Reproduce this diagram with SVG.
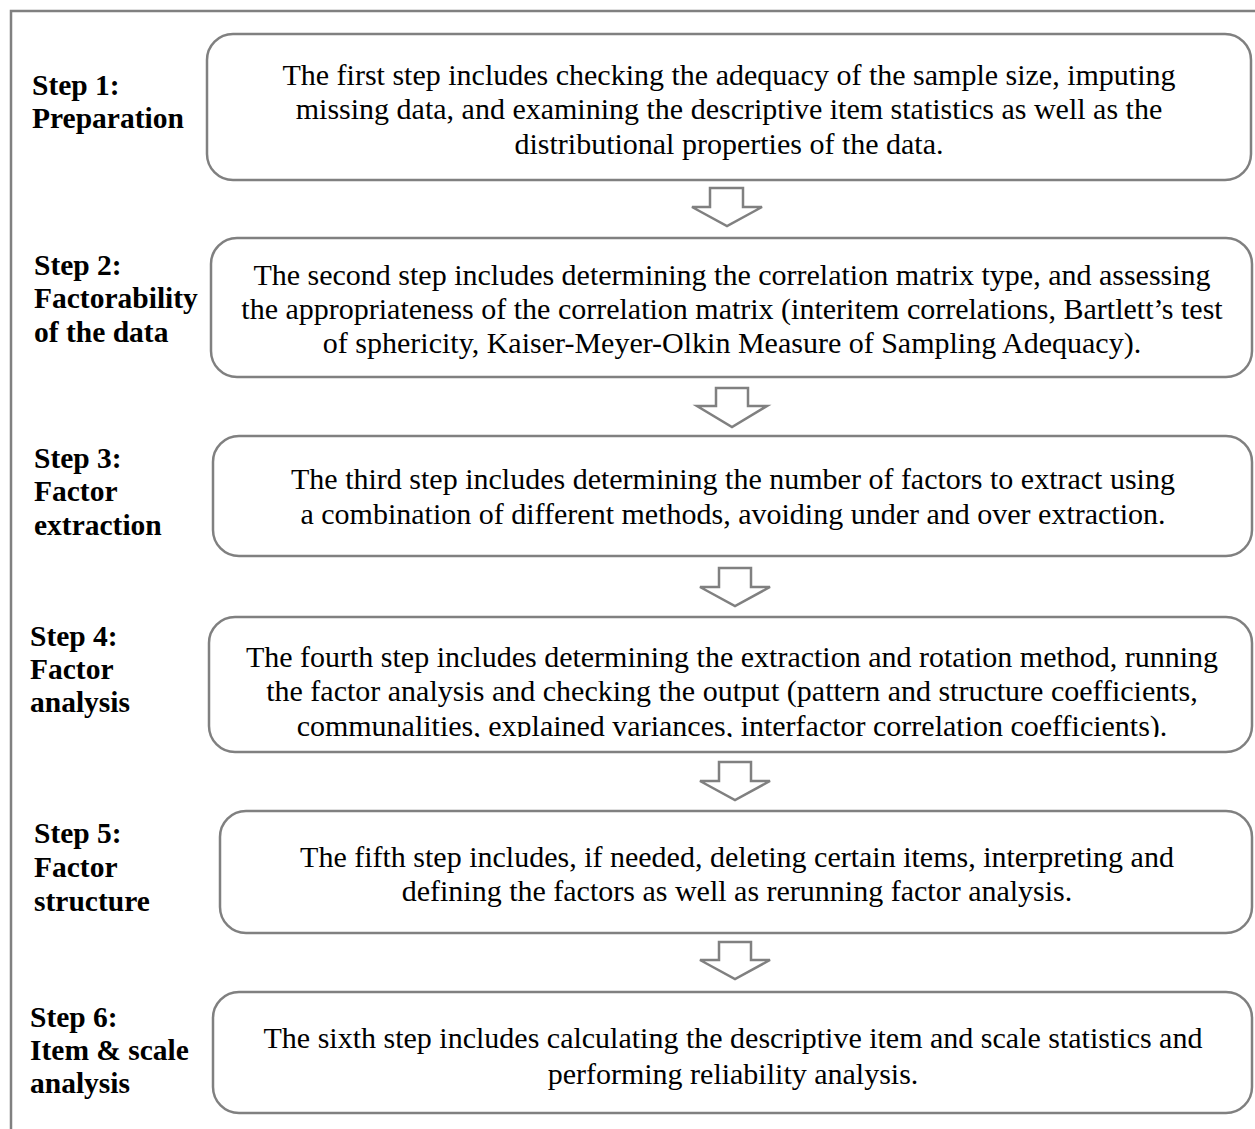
<svg xmlns="http://www.w3.org/2000/svg" width="1255" height="1129" viewBox="0 0 1255 1129">
<style>
.frame{fill:none;stroke:#808080;stroke-width:2.5}
.box{fill:#fff;stroke:#808080;stroke-width:2.5}
.arr{fill:#fff;stroke:#808080;stroke-width:2.5;stroke-linejoin:miter}
.lbl{font-family:"Liberation Serif","Times New Roman",serif;font-weight:bold;font-size:29.5px;fill:#000}
.txt{font-family:"Liberation Serif","Times New Roman",serif;font-size:30px;fill:#000;text-anchor:middle}
</style>
<defs>
<clipPath id="clip4"><rect x="200" y="600" width="1055" height="137"/></clipPath>
</defs>
<rect width="1255" height="1129" fill="#fff"/>
<path class="frame" d="M11,1129 V11 H1255"/>
<g id="connectors">
<path class="arr" d="M710,188 H743 V207 H762 L727,226 L692,207 H710 Z"/>
<path class="arr" d="M716,388 H748 V406 H767 L732,427 L697,406 H716 Z"/>
<path class="arr" d="M719,568 H751 V587 H770 L735,606 L700,587 H719 Z"/>
<path class="arr" d="M719,762 H751 V781 H770 L735,800 L700,781 H719 Z"/>
<path class="arr" d="M719,942 H751 V960 H770 L735,979 L700,960 H719 Z"/>
</g>
<g id="step1">
<text class="lbl" x="32" y="95">Step 1:</text>
<text class="lbl" x="32" y="128">Preparation</text>
<rect class="box" x="207" y="34" width="1044" height="146" rx="26"/>
<text class="txt" x="729" y="85">The first step includes checking the adequacy of the sample size, imputing</text>
<text class="txt" x="729" y="119">missing data, and examining the descriptive item statistics as well as the</text>
<text class="txt" x="729" y="154">distributional properties of the data.</text>
</g>
<g id="step2">
<text class="lbl" x="34" y="275">Step 2:</text>
<text class="lbl" x="34" y="308">Factorability</text>
<text class="lbl" x="34" y="342">of the data</text>
<rect class="box" x="211" y="238" width="1041" height="139" rx="26"/>
<text class="txt" x="732" y="285">The second step includes determining the correlation matrix type, and assessing</text>
<text class="txt" x="732" y="319">the appropriateness of the correlation matrix (interitem correlations, Bartlett’s test</text>
<text class="txt" x="732" y="353">of sphericity, Kaiser-Meyer-Olkin Measure of Sampling Adequacy).</text>
</g>
<g id="step3">
<text class="lbl" x="34" y="468">Step 3:</text>
<text class="lbl" x="34" y="501">Factor</text>
<text class="lbl" x="34" y="535">extraction</text>
<rect class="box" x="213" y="436" width="1039" height="120" rx="26"/>
<text class="txt" x="733" y="489">The third step includes determining the number of factors to extract using</text>
<text class="txt" x="733" y="524">a combination of different methods, avoiding under and over extraction.</text>
</g>
<g id="step4">
<text class="lbl" x="30" y="646">Step 4:</text>
<text class="lbl" x="30" y="679">Factor</text>
<text class="lbl" x="30" y="712">analysis</text>
<rect class="box" x="209" y="617" width="1043" height="135" rx="26"/>
<g clip-path="url(#clip4)">
<text class="txt" x="732" y="667">The fourth step includes determining the extraction and rotation method, running</text>
<text class="txt" x="732" y="701">the factor analysis and checking the output (pattern and structure coefficients,</text>
<text class="txt" x="732" y="736">communalities, explained variances, interfactor correlation coefficients).</text>
</g>
</g>
<g id="step5">
<text class="lbl" x="34" y="843">Step 5:</text>
<text class="lbl" x="34" y="877">Factor</text>
<text class="lbl" x="34" y="911">structure</text>
<rect class="box" x="220" y="811" width="1032" height="122" rx="26"/>
<text class="txt" x="737" y="867">The fifth step includes, if needed, deleting certain items, interpreting and</text>
<text class="txt" x="737" y="901">defining the factors as well as rerunning factor analysis.</text>
</g>
<g id="step6">
<text class="lbl" x="30" y="1027">Step 6:</text>
<text class="lbl" x="30" y="1060">Item &amp; scale</text>
<text class="lbl" x="30" y="1093">analysis</text>
<rect class="box" x="213" y="992" width="1039" height="121" rx="26"/>
<text class="txt" x="733" y="1048">The sixth step includes calculating the descriptive item and scale statistics and</text>
<text class="txt" x="733" y="1084">performing reliability analysis.</text>
</g>
</svg>
